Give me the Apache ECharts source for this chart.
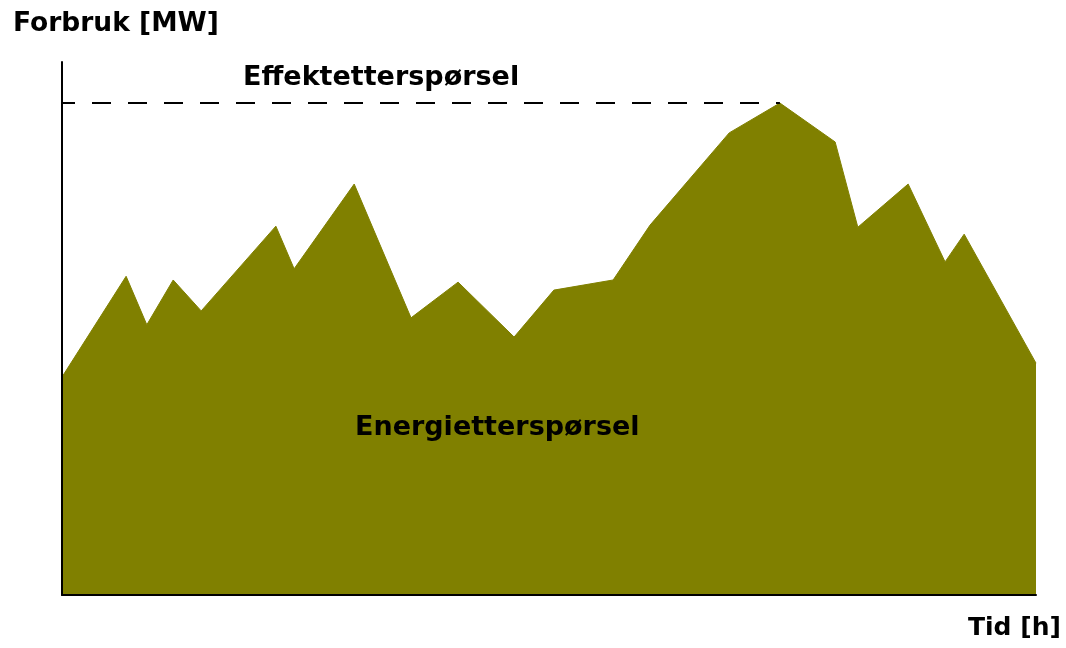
<!DOCTYPE html>
<html>
<head>
<meta charset="utf-8">
<script src="https://cdn.jsdelivr.net/npm/echarts@6/dist/echarts.min.js"></script>
<style>
html,body{margin:0;padding:0;background:#fff;}
#chart{width:1066px;height:648px;}
</style>
</head>
<body>
<div id="chart"></div>
<script>
// Time [h] of each vertex of the load curve
const hours = [0, 1.58, 2.09, 2.74, 3.43, 5.27, 5.72, 7.20, 8.60, 9.76, 11.14, 12.12, 13.58, 14.49, 16.44, 17.69, 19.05, 19.61, 20.85, 21.76, 22.23, 24];
// Load [MW] (relative units)
const load = [40.9, 59.8, 50.7, 59.1, 53.3, 69.2, 61.2, 77.1, 52.0, 58.7, 48.4, 57.2, 59.1, 69.4, 86.7, 92.3, 85.0, 69.0, 77.1, 62.5, 67.7, 43.5];
// Labels
const yAxisTitle = 'Forbruk [MW]';
const xAxisTitle = 'Tid [h]';
const peakLabel = 'Effektetterspørsel';
const energyLabel = 'Energietterspørsel';

const peakVal = Math.max(...load);
const peakHour = hours[load.indexOf(peakVal)];
const curve = hours.map((h, i) => [h, load[i]]);
const peakLine = [[hours[0], peakVal], [peakHour, peakVal]];

const FONT = '"DejaVu Sans"';
const chart = echarts.init(document.getElementById('chart'), null, {renderer: 'canvas'});
chart.setOption({
  animation: false,
  backgroundColor: '#ffffff',
  grid: {left: 62, right: 30, top: 62, bottom: 53},
  xAxis: {
    type: 'value', min: 0, max: 24, z: 5,
    axisLine: {show: true, onZero: false, lineStyle: {color: '#000', width: 2}},
    axisTick: {show: false}, axisLabel: {show: false}, splitLine: {show: false}
  },
  yAxis: {
    type: 'value', min: 0, max: 100, z: 5,
    axisLine: {show: true, onZero: false, lineStyle: {color: '#000', width: 2}},
    axisTick: {show: false}, axisLabel: {show: false}, splitLine: {show: false}
  },
  series: [
    {
      type: 'line', data: curve, symbol: 'none', z: 2,
      lineStyle: {color: '#808000', width: 1},
      areaStyle: {color: '#808000', opacity: 1}
    },
    {
      type: 'line', data: peakLine, symbol: 'none', z: 3,
      lineStyle: {color: '#000', width: 2, type: [19, 17], dashOffset: 6}
    }
  ],
  graphic: [
    {type: 'text', x: 13, y: 24, z: 10, style: {text: yAxisTitle, font: 'bold 26.5px ' + FONT, fill: '#000', verticalAlign: 'middle'}},
    {type: 'text', x: 243, y: 78, z: 10, style: {text: peakLabel, font: 'bold 27px ' + FONT, fill: '#000', verticalAlign: 'middle'}},
    {type: 'text', x: 355, y: 428, z: 10, style: {text: energyLabel, font: 'bold 27px ' + FONT, fill: '#000', verticalAlign: 'middle'}},
    {type: 'text', x: 968, y: 628, z: 10, style: {text: xAxisTitle, font: 'bold 25px ' + FONT, fill: '#000', verticalAlign: 'middle'}}
  ]
});
</script>
</body>
</html>
